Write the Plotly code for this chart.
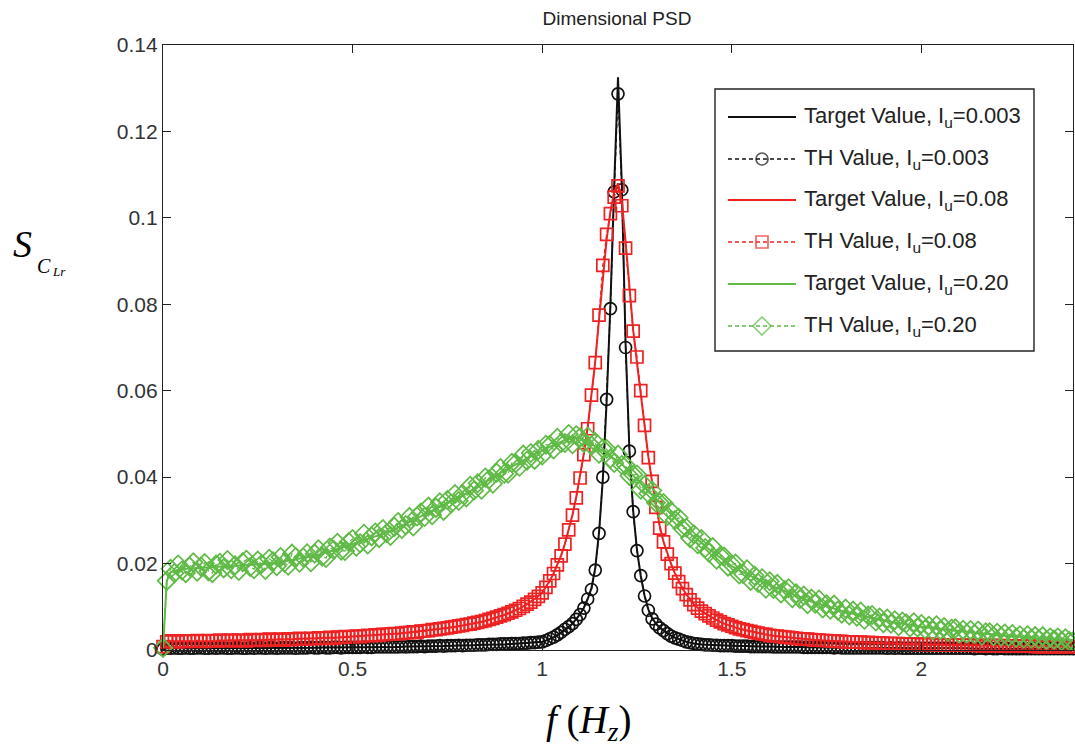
import plotly.graph_objects as go

# ---- frequency axis (Hz) of the smooth target curves
freq_low = [0.00, 0.01, 0.02, 0.04, 0.06, 0.08, 0.10, 0.12, 0.14, 0.16,
            0.18, 0.20, 0.22, 0.24, 0.26, 0.28, 0.30, 0.32, 0.34, 0.36,
            0.38, 0.40, 0.42, 0.44, 0.46, 0.48, 0.50, 0.52, 0.54, 0.56,
            0.58, 0.60, 0.62, 0.64, 0.66, 0.68, 0.70, 0.72, 0.74, 0.76,
            0.78, 0.80, 0.82, 0.84, 0.86, 0.88, 0.90, 0.92, 0.94, 0.96, 0.98]
freq_mid = [1.00, 1.01, 1.02, 1.03, 1.04, 1.05, 1.06, 1.07, 1.08, 1.09,
            1.10, 1.11, 1.12, 1.13, 1.14, 1.15, 1.16, 1.17, 1.18, 1.19,
            1.20, 1.21, 1.22, 1.23, 1.24, 1.25, 1.26, 1.27, 1.28, 1.29,
            1.30, 1.31, 1.32, 1.33, 1.34, 1.35, 1.36, 1.37, 1.38, 1.39, 1.40]
freq_high = [1.42, 1.44, 1.46, 1.48, 1.50, 1.52, 1.54, 1.56, 1.58, 1.60,
             1.62, 1.64, 1.66, 1.68, 1.70, 1.72, 1.74, 1.76, 1.78, 1.80,
             1.82, 1.84, 1.86, 1.88, 1.90, 1.92, 1.94, 1.96, 1.98, 2.00,
             2.02, 2.04, 2.06, 2.08, 2.10, 2.12, 2.14, 2.16, 2.18, 2.20,
             2.22, 2.24, 2.26, 2.28, 2.30, 2.32, 2.34, 2.36, 2.38, 2.40]

# ---- frequency axis (Hz) of the time-history (TH) estimates, 0.01 Hz resolution
freq_th = [0.00, 0.01, 0.02, 0.03, 0.04, 0.05, 0.06, 0.07, 0.08, 0.09,
           0.10, 0.11, 0.12, 0.13, 0.14, 0.15, 0.16, 0.17, 0.18, 0.19,
           0.20, 0.21, 0.22, 0.23, 0.24, 0.25, 0.26, 0.27, 0.28, 0.29,
           0.30, 0.31, 0.32, 0.33, 0.34, 0.35, 0.36, 0.37, 0.38, 0.39,
           0.40, 0.41, 0.42, 0.43, 0.44, 0.45, 0.46, 0.47, 0.48, 0.49,
           0.50, 0.51, 0.52, 0.53, 0.54, 0.55, 0.56, 0.57, 0.58, 0.59,
           0.60, 0.61, 0.62, 0.63, 0.64, 0.65, 0.66, 0.67, 0.68, 0.69,
           0.70, 0.71, 0.72, 0.73, 0.74, 0.75, 0.76, 0.77, 0.78, 0.79,
           0.80, 0.81, 0.82, 0.83, 0.84, 0.85, 0.86, 0.87, 0.88, 0.89,
           0.90, 0.91, 0.92, 0.93, 0.94, 0.95, 0.96, 0.97, 0.98, 0.99,
           1.00, 1.01, 1.02, 1.03, 1.04, 1.05, 1.06, 1.07, 1.08, 1.09,
           1.10, 1.11, 1.12, 1.13, 1.14, 1.15, 1.16, 1.17, 1.18, 1.19,
           1.20, 1.21, 1.22, 1.23, 1.24, 1.25, 1.26, 1.27, 1.28, 1.29,
           1.30, 1.31, 1.32, 1.33, 1.34, 1.35, 1.36, 1.37, 1.38, 1.39,
           1.40, 1.41, 1.42, 1.43, 1.44, 1.45, 1.46, 1.47, 1.48, 1.49,
           1.50, 1.51, 1.52, 1.53, 1.54, 1.55, 1.56, 1.57, 1.58, 1.59,
           1.60, 1.61, 1.62, 1.63, 1.64, 1.65, 1.66, 1.67, 1.68, 1.69,
           1.70, 1.71, 1.72, 1.73, 1.74, 1.75, 1.76, 1.77, 1.78, 1.79,
           1.80, 1.81, 1.82, 1.83, 1.84, 1.85, 1.86, 1.87, 1.88, 1.89,
           1.90, 1.91, 1.92, 1.93, 1.94, 1.95, 1.96, 1.97, 1.98, 1.99,
           2.00, 2.01, 2.02, 2.03, 2.04, 2.05, 2.06, 2.07, 2.08, 2.09,
           2.10, 2.11, 2.12, 2.13, 2.14, 2.15, 2.16, 2.17, 2.18, 2.19,
           2.20, 2.21, 2.22, 2.23, 2.24, 2.25, 2.26, 2.27, 2.28, 2.29,
           2.30, 2.31, 2.32, 2.33, 2.34, 2.35, 2.36, 2.37, 2.38, 2.39,
           2.40]

# ---- Iu = 0.003 : target PSD
target_003_low = [0.0002, 0.0004, 0.0004, 0.0004, 0.0004, 0.0004, 0.0004, 0.0004, 0.0004, 0.0004,
                  0.0005, 0.0005, 0.0005, 0.0005, 0.0005, 0.0005, 0.0005, 0.0005, 0.0005, 0.0005,
                  0.0005, 0.0005, 0.0006, 0.0006, 0.0006, 0.0006, 0.0006, 0.0006, 0.0006, 0.0007,
                  0.0007, 0.0007, 0.0007, 0.0008, 0.0008, 0.0008, 0.0009, 0.0009, 0.0009, 0.0010,
                  0.0010, 0.0011, 0.0011, 0.0012, 0.0012, 0.0013, 0.0013, 0.0014, 0.0015, 0.0016, 0.0017]
target_003_mid = [0.0019, 0.0022, 0.0025, 0.0029, 0.0034, 0.0040, 0.0046, 0.0053, 0.0061, 0.0071,
                  0.0083, 0.0098, 0.0118, 0.0143, 0.0190, 0.0272, 0.0395, 0.0575, 0.0800, 0.1075,
                  0.1325, 0.1080, 0.0710, 0.0465, 0.0322, 0.0232, 0.0171, 0.0126, 0.0094, 0.0074,
                  0.0061, 0.0052, 0.0045, 0.0038, 0.0033, 0.0029, 0.0025, 0.0022, 0.0019, 0.0017, 0.0015]
target_003_high = [0.0013, 0.0012, 0.0011, 0.0010, 0.0010, 0.0009, 0.0009, 0.0008, 0.0008, 0.0008,
                   0.0007, 0.0007, 0.0007, 0.0007, 0.0006, 0.0006, 0.0006, 0.0006, 0.0005, 0.0005,
                   0.0005, 0.0005, 0.0005, 0.0005, 0.0005, 0.0004, 0.0004, 0.0004, 0.0004, 0.0004,
                   0.0004, 0.0004, 0.0004, 0.0004, 0.0004, 0.0004, 0.0003, 0.0003, 0.0003, 0.0003,
                   0.0003, 0.0003, 0.0003, 0.0003, 0.0003, 0.0003, 0.0003, 0.0003, 0.0003, 0.0003]
# ---- Iu = 0.003 : TH estimate
th_003 = [0.0002, 0.0004, 0.0004, 0.0005, 0.0004, 0.0004, 0.0005, 0.0004, 0.0004, 0.0005,
          0.0005, 0.0004, 0.0004, 0.0005, 0.0004, 0.0005, 0.0005, 0.0004, 0.0004, 0.0005,
          0.0005, 0.0004, 0.0004, 0.0005, 0.0004, 0.0005, 0.0005, 0.0004, 0.0005, 0.0005,
          0.0004, 0.0005, 0.0005, 0.0005, 0.0005, 0.0004, 0.0005, 0.0005, 0.0005, 0.0006,
          0.0005, 0.0005, 0.0006, 0.0005, 0.0005, 0.0006, 0.0006, 0.0005, 0.0006, 0.0006,
          0.0006, 0.0006, 0.0006, 0.0007, 0.0006, 0.0006, 0.0007, 0.0007, 0.0007, 0.0007,
          0.0007, 0.0007, 0.0007, 0.0008, 0.0007, 0.0008, 0.0008, 0.0008, 0.0009, 0.0008,
          0.0009, 0.0009, 0.0009, 0.0010, 0.0009, 0.0010, 0.0010, 0.0010, 0.0011, 0.0010,
          0.0011, 0.0011, 0.0011, 0.0012, 0.0012, 0.0012, 0.0013, 0.0013, 0.0013, 0.0014,
          0.0014, 0.0014, 0.0015, 0.0015, 0.0015, 0.0016, 0.0016, 0.0017, 0.0017, 0.0018,
          0.0019, 0.0022, 0.0026, 0.0030, 0.0035, 0.0041, 0.0048, 0.0054, 0.0061, 0.0071,
          0.0082, 0.0097, 0.0118, 0.0140, 0.0185, 0.0270, 0.0400, 0.0580, 0.0790, 0.1060,
          0.1287, 0.1065, 0.0700, 0.0460, 0.0320, 0.0230, 0.0172, 0.0125, 0.0092, 0.0072,
          0.0060, 0.0051, 0.0045, 0.0038, 0.0032, 0.0028, 0.0025, 0.0022, 0.0019, 0.0017,
          0.0015, 0.0014, 0.0013, 0.0012, 0.0012, 0.0011, 0.0011, 0.0010, 0.0010, 0.0010,
          0.0010, 0.0009, 0.0009, 0.0009, 0.0009, 0.0008, 0.0008, 0.0008, 0.0008, 0.0008,
          0.0008, 0.0007, 0.0007, 0.0007, 0.0007, 0.0007, 0.0007, 0.0007, 0.0007, 0.0006,
          0.0006, 0.0006, 0.0006, 0.0006, 0.0006, 0.0006, 0.0006, 0.0005, 0.0006, 0.0005,
          0.0005, 0.0005, 0.0005, 0.0005, 0.0005, 0.0005, 0.0005, 0.0005, 0.0005, 0.0005,
          0.0005, 0.0004, 0.0005, 0.0004, 0.0005, 0.0004, 0.0004, 0.0004, 0.0004, 0.0004,
          0.0004, 0.0004, 0.0004, 0.0004, 0.0004, 0.0004, 0.0004, 0.0004, 0.0004, 0.0004,
          0.0004, 0.0004, 0.0004, 0.0004, 0.0003, 0.0004, 0.0004, 0.0003, 0.0004, 0.0003,
          0.0003, 0.0004, 0.0003, 0.0003, 0.0003, 0.0003, 0.0003, 0.0003, 0.0003, 0.0003,
          0.0003, 0.0003, 0.0003, 0.0003, 0.0003, 0.0003, 0.0003, 0.0003, 0.0003, 0.0003,
          0.0003]

# ---- Iu = 0.08 : target PSD
target_008_low = [0.0008, 0.0019, 0.0020, 0.0020, 0.0020, 0.0021, 0.0021, 0.0021, 0.0021, 0.0022,
                  0.0022, 0.0022, 0.0022, 0.0023, 0.0023, 0.0024, 0.0024, 0.0025, 0.0025, 0.0026,
                  0.0026, 0.0027, 0.0028, 0.0028, 0.0029, 0.0030, 0.0031, 0.0032, 0.0033, 0.0034,
                  0.0036, 0.0037, 0.0038, 0.0040, 0.0042, 0.0043, 0.0045, 0.0047, 0.0050, 0.0052,
                  0.0055, 0.0058, 0.0061, 0.0065, 0.0070, 0.0075, 0.0081, 0.0088, 0.0096, 0.0106, 0.0118]
target_008_mid = [0.0133, 0.0146, 0.0160, 0.0177, 0.0196, 0.0219, 0.0246, 0.0277, 0.0313, 0.0355,
                  0.0402, 0.0455, 0.0515, 0.0585, 0.0668, 0.0765, 0.0865, 0.0950, 0.1015, 0.1060,
                  0.1080, 0.1040, 0.0945, 0.0835, 0.0740, 0.0665, 0.0590, 0.0515, 0.0448, 0.0388,
                  0.0333, 0.0287, 0.0251, 0.0222, 0.0199, 0.0178, 0.0159, 0.0143, 0.0129, 0.0117, 0.0106]
target_008_high = [0.0090, 0.0079, 0.0069, 0.0061, 0.0055, 0.0049, 0.0045, 0.0041, 0.0037, 0.0034,
                   0.0032, 0.0030, 0.0028, 0.0026, 0.0025, 0.0023, 0.0022, 0.0021, 0.0020, 0.0019,
                   0.0018, 0.0018, 0.0017, 0.0016, 0.0016, 0.0015, 0.0015, 0.0014, 0.0014, 0.0013,
                   0.0013, 0.0013, 0.0012, 0.0012, 0.0011, 0.0011, 0.0011, 0.0010, 0.0010, 0.0010,
                   0.0010, 0.0009, 0.0009, 0.0009, 0.0009, 0.0009, 0.0008, 0.0008, 0.0008, 0.0008]
# ---- Iu = 0.08 : TH estimate
th_008 = [0.0008, 0.0019, 0.0021, 0.0020, 0.0019, 0.0021, 0.0020, 0.0021, 0.0020, 0.0022,
          0.0021, 0.0020, 0.0022, 0.0021, 0.0021, 0.0023, 0.0021, 0.0022, 0.0023, 0.0021,
          0.0023, 0.0022, 0.0021, 0.0024, 0.0022, 0.0023, 0.0024, 0.0022, 0.0025, 0.0023,
          0.0024, 0.0025, 0.0023, 0.0026, 0.0024, 0.0025, 0.0027, 0.0025, 0.0026, 0.0027,
          0.0026, 0.0028, 0.0027, 0.0028, 0.0029, 0.0027, 0.0030, 0.0029, 0.0031, 0.0030,
          0.0031, 0.0032, 0.0031, 0.0033, 0.0034, 0.0033, 0.0035, 0.0034, 0.0036, 0.0036,
          0.0037, 0.0038, 0.0037, 0.0039, 0.0040, 0.0040, 0.0042, 0.0041, 0.0044, 0.0044,
          0.0045, 0.0047, 0.0047, 0.0049, 0.0050, 0.0051, 0.0053, 0.0054, 0.0056, 0.0057,
          0.0059, 0.0060, 0.0062, 0.0064, 0.0066, 0.0068, 0.0071, 0.0073, 0.0076, 0.0079,
          0.0082, 0.0085, 0.0088, 0.0092, 0.0096, 0.0101, 0.0106, 0.0111, 0.0117, 0.0124,
          0.0132, 0.0145, 0.0160, 0.0177, 0.0197, 0.0218, 0.0245, 0.0278, 0.0312, 0.0352,
          0.0398, 0.0452, 0.0512, 0.0590, 0.0665, 0.0775, 0.0890, 0.0962, 0.1010, 0.1048,
          0.1074, 0.1028, 0.0930, 0.0820, 0.0738, 0.0678, 0.0600, 0.0520, 0.0445, 0.0390,
          0.0330, 0.0282, 0.0250, 0.0222, 0.0200, 0.0178, 0.0158, 0.0142, 0.0128, 0.0116,
          0.0105, 0.0097, 0.0090, 0.0084, 0.0079, 0.0074, 0.0069, 0.0065, 0.0061, 0.0058,
          0.0055, 0.0052, 0.0049, 0.0047, 0.0045, 0.0043, 0.0041, 0.0039, 0.0037, 0.0036,
          0.0034, 0.0033, 0.0032, 0.0031, 0.0030, 0.0029, 0.0028, 0.0027, 0.0026, 0.0025,
          0.0025, 0.0024, 0.0023, 0.0023, 0.0022, 0.0022, 0.0021, 0.0021, 0.0020, 0.0020,
          0.0019, 0.0019, 0.0018, 0.0018, 0.0018, 0.0017, 0.0017, 0.0017, 0.0016, 0.0016,
          0.0016, 0.0015, 0.0015, 0.0015, 0.0015, 0.0014, 0.0014, 0.0014, 0.0014, 0.0013,
          0.0013, 0.0013, 0.0013, 0.0013, 0.0012, 0.0012, 0.0012, 0.0012, 0.0012, 0.0011,
          0.0011, 0.0011, 0.0011, 0.0011, 0.0011, 0.0010, 0.0010, 0.0010, 0.0010, 0.0010,
          0.0010, 0.0010, 0.0009, 0.0009, 0.0009, 0.0009, 0.0009, 0.0009, 0.0009, 0.0009,
          0.0008, 0.0008, 0.0008, 0.0008, 0.0008, 0.0008, 0.0008, 0.0008, 0.0008, 0.0008,
          0.0008]

# ---- Iu = 0.20 : target PSD
target_020_low = [0.0005, 0.0160, 0.0180, 0.0186, 0.0188, 0.0189, 0.0190, 0.0191, 0.0192, 0.0193,
                  0.0194, 0.0195, 0.0196, 0.0197, 0.0198, 0.0200, 0.0202, 0.0205, 0.0208, 0.0211,
                  0.0214, 0.0218, 0.0223, 0.0228, 0.0234, 0.0239, 0.0245, 0.0251, 0.0257, 0.0263,
                  0.0269, 0.0275, 0.0283, 0.0292, 0.0300, 0.0309, 0.0318, 0.0327, 0.0335, 0.0344,
                  0.0353, 0.0362, 0.0373, 0.0383, 0.0394, 0.0404, 0.0415, 0.0424, 0.0434, 0.0443, 0.0453]
target_020_mid = [0.0462, 0.0466, 0.0470, 0.0474, 0.0478, 0.0482, 0.0486, 0.0489, 0.0491, 0.0491,
                  0.0490, 0.0487, 0.0482, 0.0477, 0.0472, 0.0467, 0.0461, 0.0455, 0.0449, 0.0444,
                  0.0438, 0.0430, 0.0421, 0.0412, 0.0403, 0.0394, 0.0385, 0.0376, 0.0367, 0.0358,
                  0.0349, 0.0340, 0.0331, 0.0322, 0.0313, 0.0304, 0.0296, 0.0288, 0.0279, 0.0270, 0.0262]
target_020_high = [0.0247, 0.0233, 0.0220, 0.0207, 0.0194, 0.0184, 0.0175, 0.0166, 0.0158, 0.0150,
                   0.0143, 0.0136, 0.0129, 0.0122, 0.0115, 0.0110, 0.0104, 0.0099, 0.0093, 0.0088,
                   0.0084, 0.0080, 0.0076, 0.0072, 0.0068, 0.0065, 0.0062, 0.0060, 0.0057, 0.0054,
                   0.0052, 0.0050, 0.0048, 0.0046, 0.0043, 0.0042, 0.0040, 0.0038, 0.0037, 0.0035,
                   0.0034, 0.0032, 0.0031, 0.0029, 0.0028, 0.0027, 0.0026, 0.0025, 0.0024, 0.0023]
# ---- Iu = 0.20 : TH estimate
th_020 = [0.0005, 0.0160, 0.0188, 0.0178, 0.0198, 0.0184, 0.0178, 0.0193, 0.0203, 0.0181,
          0.0193, 0.0201, 0.0182, 0.0178, 0.0198, 0.0202, 0.0189, 0.0208, 0.0187, 0.0196,
          0.0183, 0.0203, 0.0209, 0.0192, 0.0187, 0.0207, 0.0199, 0.0185, 0.0211, 0.0205,
          0.0194, 0.0215, 0.0202, 0.0195, 0.0223, 0.0215, 0.0202, 0.0214, 0.0224, 0.0203,
          0.0223, 0.0233, 0.0216, 0.0213, 0.0237, 0.0232, 0.0248, 0.0230, 0.0229, 0.0250,
          0.0257, 0.0239, 0.0247, 0.0269, 0.0244, 0.0263, 0.0272, 0.0259, 0.0280, 0.0270,
          0.0264, 0.0285, 0.0296, 0.0280, 0.0289, 0.0308, 0.0286, 0.0309, 0.0318, 0.0308,
          0.0332, 0.0312, 0.0329, 0.0342, 0.0322, 0.0347, 0.0339, 0.0361, 0.0345, 0.0361,
          0.0353, 0.0380, 0.0369, 0.0386, 0.0371, 0.0399, 0.0395, 0.0385, 0.0410, 0.0421,
          0.0408, 0.0408, 0.0433, 0.0432, 0.0424, 0.0452, 0.0438, 0.0456, 0.0440, 0.0463,
          0.0450, 0.0475, 0.0474, 0.0464, 0.0491, 0.0479, 0.0479, 0.0500, 0.0476, 0.0497,
          0.0492, 0.0479, 0.0494, 0.0473, 0.0481, 0.0454, 0.0466, 0.0465, 0.0443, 0.0433,
          0.0452, 0.0428, 0.0428, 0.0403, 0.0406, 0.0406, 0.0371, 0.0382, 0.0362, 0.0369,
          0.0341, 0.0341, 0.0340, 0.0310, 0.0321, 0.0301, 0.0306, 0.0281, 0.0283, 0.0259,
          0.0268, 0.0245, 0.0257, 0.0236, 0.0225, 0.0238, 0.0209, 0.0218, 0.0216, 0.0193,
          0.0198, 0.0200, 0.0175, 0.0176, 0.0187, 0.0160, 0.0172, 0.0155, 0.0166, 0.0142,
          0.0159, 0.0141, 0.0153, 0.0131, 0.0139, 0.0143, 0.0120, 0.0131, 0.0118, 0.0126,
          0.0106, 0.0119, 0.0107, 0.0117, 0.0096, 0.0106, 0.0093, 0.0105, 0.0091, 0.0084,
          0.0096, 0.0080, 0.0091, 0.0077, 0.0089, 0.0070, 0.0080, 0.0081, 0.0066, 0.0075,
          0.0062, 0.0073, 0.0061, 0.0069, 0.0055, 0.0066, 0.0062, 0.0052, 0.0064, 0.0052,
          0.0060, 0.0048, 0.0056, 0.0045, 0.0057, 0.0046, 0.0053, 0.0042, 0.0049, 0.0050,
          0.0038, 0.0047, 0.0038, 0.0046, 0.0037, 0.0045, 0.0033, 0.0041, 0.0041, 0.0032,
          0.0040, 0.0031, 0.0038, 0.0030, 0.0037, 0.0028, 0.0034, 0.0026, 0.0034, 0.0026,
          0.0032, 0.0025, 0.0032, 0.0023, 0.0029, 0.0024, 0.0029, 0.0021, 0.0027, 0.0021,
          0.0020]

x_ticks = [0, 0.5, 1, 1.5, 2]
x_tick_text = ["0", "0.5", "1", "1.5", "2"]
y_ticks = [0, 0.02, 0.04, 0.06, 0.08, 0.1, 0.12, 0.14]
y_tick_text = ["0", "0.02", "0.04", "0.06", "0.08", "0.1", "0.12", "0.14"]

legend_labels = ["Target Value, I<sub>u</sub>=0.003", "TH Value, I<sub>u</sub>=0.003",
                 "Target Value, I<sub>u</sub>=0.08", "TH Value, I<sub>u</sub>=0.08",
                 "Target Value, I<sub>u</sub>=0.20", "TH Value, I<sub>u</sub>=0.20"]

BLACK = "#111111"
RED = "#ee2222"
GREEN = "#5fba46"

freq_target = freq_low + freq_mid + freq_high

# (x, y, colour, marker symbol, marker size); symbol None = solid target line
series = [
    (freq_target, target_003_low + target_003_mid + target_003_high, BLACK, None, 0),
    (freq_th, th_003, BLACK, "circle-open", 12),
    (freq_target, target_008_low + target_008_mid + target_008_high, RED, None, 0),
    (freq_th, th_008, RED, "square-open", 12),
    (freq_target, target_020_low + target_020_mid + target_020_high, GREEN, None, 0),
    (freq_th, th_020, GREEN, "diamond-open", 14),
]

fig = go.Figure()
for xs, ys, color, symbol, msize in series:
    if symbol is None:
        fig.add_trace(go.Scatter(x=xs, y=ys, mode="lines",
                                 line=dict(color=color, width=2),
                                 showlegend=False, cliponaxis=False))
    else:
        fig.add_trace(go.Scatter(x=xs, y=ys, mode="lines+markers",
                                 line=dict(color=color, width=1.3, dash="4px,3px"),
                                 marker=dict(symbol=symbol, size=msize, color=color,
                                             line=dict(width=1.7)),
                                 showlegend=False, cliponaxis=False))

# ---- boxed legend drawn on a pixel-scaled overlay axis
L, R, T, B = 163, 1073, 45, 650
row_y = [117, 159, 200, 242, 284, 326]
for i, (label, (xs, ys, color, symbol, msize)) in enumerate(zip(legend_labels, series)):
    y = row_y[i]
    if symbol is None:
        fig.add_trace(go.Scatter(x=[728, 796], y=[y, y], mode="lines", xaxis="x2", yaxis="y2",
                                 line=dict(color=color, width=2), showlegend=False,
                                 hoverinfo="skip"))
    else:
        fig.add_trace(go.Scatter(x=[728, 762, 796], y=[y, y, y], mode="lines+markers",
                                 xaxis="x2", yaxis="y2",
                                 line=dict(color=color, width=1.3, dash="4px,3px"),
                                 marker=dict(symbol=symbol, size=[0, msize, 0],
                                             color=color, line=dict(width=1.7)),
                                 showlegend=False, hoverinfo="skip"))
    fig.add_annotation(x=802, y=y, xref="x2", yref="y2", text=label, showarrow=False,
                       xanchor="left", yanchor="middle",
                       font=dict(family="Liberation Sans, Arial, sans-serif", size=22, color="#222"))

fig.add_shape(type="rect", xref="x2", yref="y2", x0=715, x1=1034, y0=89, y1=351,
              line=dict(color="#222", width=1.4), fillcolor="rgba(0,0,0,0)")


def px(X):
    return (X - L) / (R - L)


def py(Y):
    return (B - Y) / (B - T)


serif = "Liberation Serif, Times New Roman, serif"
fig.add_annotation(x=px(22), y=py(244), xref="paper", yref="paper", text="<i>S</i>",
                   showarrow=False, xanchor="center", yanchor="middle",
                   font=dict(family=serif, size=38, color="black"))
fig.add_annotation(x=px(35), y=py(266), xref="paper", yref="paper", text="<i>C</i>",
                   showarrow=False, xanchor="left", yanchor="middle",
                   font=dict(family=serif, size=20, color="black"))
fig.add_annotation(x=px(50), y=py(271), xref="paper", yref="paper", text="<i>Lr</i>",
                   showarrow=False, xanchor="left", yanchor="middle",
                   font=dict(family=serif, size=13, color="black"))
fig.add_annotation(x=px(588), y=py(722), xref="paper", yref="paper",
                   text="<i>f</i> (<i>H</i><sub><i>z</i></sub>)",
                   showarrow=False, xanchor="center", yanchor="middle",
                   font=dict(family=serif, size=39, color="black"))

axis_common = dict(showline=True, linecolor="#222", linewidth=1.4, mirror="allticks",
                   ticks="inside", ticklen=8, tickwidth=1.4, tickcolor="#222",
                   showgrid=False, zeroline=False,
                   tickfont=dict(family="Liberation Sans, Arial, sans-serif", size=21, color="#333"))

fig.update_layout(
    width=1075, height=746,
    margin=dict(l=L, r=1075 - R, t=T, b=746 - B),
    paper_bgcolor="white", plot_bgcolor="white",
    showlegend=False,
    title=dict(text="Dimensional PSD", x=px(617), xref="paper", xanchor="center",
               y=1 - 18 / 746, yanchor="middle",
               font=dict(family="Liberation Sans, Arial, sans-serif", size=19, color="#222")),
    xaxis=dict(range=[0, 2.4], tickvals=x_ticks, ticktext=x_tick_text, **axis_common),
    yaxis=dict(range=[0, 0.14], tickvals=y_ticks, ticktext=y_tick_text, **axis_common),
    xaxis2=dict(overlaying="x", range=[L, R], visible=False, fixedrange=True),
    yaxis2=dict(overlaying="y", range=[B, T], visible=False, fixedrange=True),
)

fig.write_html("out.html")
